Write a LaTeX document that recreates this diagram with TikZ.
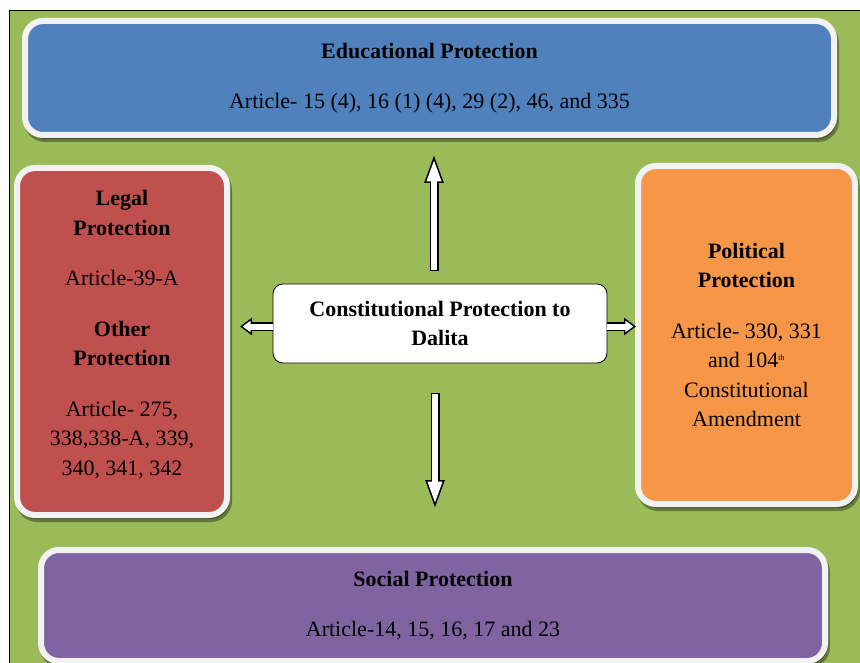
\documentclass[tikz,border=0pt]{standalone}
\usepackage{fontspec}
\setmainfont{Liberation Serif}
\usetikzlibrary{arrows.meta,shadows,positioning}
\definecolor{bggreen}{HTML}{9BBB59}
\definecolor{edublue}{HTML}{4F81BD}
\definecolor{legalred}{HTML}{C0504D}
\definecolor{polorange}{HTML}{F79646}
\definecolor{socpurple}{HTML}{8064A2}
\begin{document}
\begin{tikzpicture} [x=1pt,y=-1pt,every node/.style={font=\fontsize{22}{29.5}\selectfont},{box/.style={rounded corners=18pt,draw=white!95!black,line width=6pt,align=center,inner sep=2pt,drop shadow={shadow xshift=2pt,shadow yshift=-4pt,fill=black,draw=black,line width=6pt,opacity=.35}}},{centre/.style={rounded corners=10pt,draw=black,line width=.8pt,fill=white,align=center,minimum width=334pt,minimum height=79pt}},{varrow/.style={preaction={draw=black,line width=9pt,-{Triangle[length=30pt,width=17pt]},shorten >=0pt,shorten <=0pt},draw=white,line width=6pt,-{Triangle[length=23pt,width=13pt]},shorten >=5.5pt,shorten <=1.5pt}},{harrow/.style={preaction={draw=black,line width=9pt,-{Triangle[length=12pt,width=17pt]},shorten >=0pt},draw=white,line width=6pt,-{Triangle[length=8pt,width=11pt]},shorten >=2.6pt}}]
		\useasboundingbox (0,0) rectangle (860,663);
		\clip (0,0) rectangle (860,663);
		%background
		\fill [white] (0,0) rectangle (860,663);
		\fill [bggreen] (9,11) rectangle (860,663);
		\draw [black,line width=1pt] (9,663) -- (9,11) -- (860,11);
		%%protection boxes
		\node at (429.5,78) [box,fill=edublue,minimum width=809pt,minimum height=114pt] (edu) {\textbf{Educational Protection}\\[21pt]Article- 15 (4), 16 (1) (4), 29 (2), 46, and 335};
		\node at (122,341.5) [box,fill=legalred,minimum width=210pt,minimum height=347pt,text depth=17pt] (legal) {\textbf{Legal}\\\textbf{Protection}\\[21pt]Article-39-A\\[21pt]\textbf{Other}\\\textbf{Protection}\\[21pt]Article- 275,\\338,338-A, 339,\\340, 341, 342};
		\node at (746.5,335) [box,fill=polorange,minimum width=217pt,minimum height=338pt] (political) {\textbf{Political}\\\textbf{Protection}\\[21pt]Article- 330, 331\\and 104\textsuperscript{\fontsize{8}{8}\selectfont th}\\Constitutional\\Amendment};
		\node at (433,605.5) [box,fill=socpurple,minimum width=784pt,minimum height=111pt] (social) {\textbf{Social Protection}\\[21pt]Article-14,\ 15, 16, 17 and 23};
		\node at (440,323.5) [centre] (cpd) {\textbf{Constitutional Protection to}\\\textbf{Dalita}};

		%%arrow ends
		\coordinate (upTail) at ([xshift=-6pt,yshift=12.5pt]cpd.north);
		\coordinate (upEnd) at (upTail |- edu.south);
		\coordinate (downTail) at ([xshift=-5pt,yshift=-29.5pt]cpd.south);
		\coordinate (downEnd) at (downTail |- social.north);
		\coordinate (leftTail) at ([yshift=-3pt]cpd.west);
		\coordinate (leftEnd) at (leftTail -| legal.east);
		\coordinate (rightTail) at ([yshift=-3pt]cpd.east);
		\coordinate (rightEnd) at (rightTail -| political.west);
		%%arrows
		\draw [varrow] (upTail) -- ([yshift=-15pt]upEnd);
		\draw [varrow] (downTail) -- ([yshift=37pt]downEnd);
		\draw [harrow] (leftTail) -- ([xshift=10pt]leftEnd);
		\draw [harrow] (rightTail) -- ([xshift=1pt]rightEnd);
	\end{tikzpicture}
\end{document}
